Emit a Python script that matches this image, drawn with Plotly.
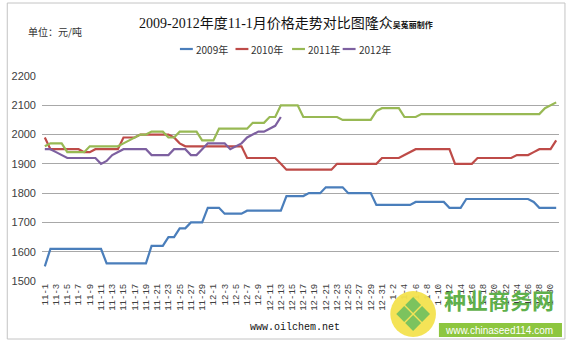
import plotly.graph_objects as go

# Category axis: every day from 1 Nov to 31 Jan
month_lengths = [(11, 30), (12, 31), (1, 31)]
dates = [f"{m}-{d}" for m, n in month_lengths for d in range(1, n + 1)]
tick_labels = dates[::2]

series_names = ["2009年", "2010年", "2011年", "2012年"]
series_colors = ["#4a7ebb", "#be4b48", "#98b954", "#7d60a0"]

price_2009 = [1550,
              1610, 1610, 1610, 1610, 1610, 1610, 1610, 1610, 1610, 1610,
              1560, 1560, 1560, 1560, 1560, 1560, 1560, 1560,
              1620, 1620, 1620, 1650, 1650, 1680, 1680, 1700, 1700, 1700,
              1750, 1750, 1750, 1730, 1730, 1730, 1730,
              1740, 1740, 1740, 1740, 1740, 1740, 1740,
              1790, 1790, 1790, 1790, 1800, 1800, 1800,
              1820, 1820, 1820, 1820, 1800, 1800, 1800, 1800, 1800,
              1760, 1760, 1760, 1760, 1760, 1760, 1760,
              1770, 1770, 1770, 1770, 1770, 1770, 1750, 1750, 1750,
              1780, 1780, 1780, 1780, 1780, 1780, 1780, 1780, 1780, 1780, 1780, 1780,
              1770, 1750, 1750, 1750, 1750]

price_2010 = [1990,
              1950, 1950, 1950, 1950, 1950, 1950, 1940, 1940,
              1950, 1950, 1950, 1950, 1950, 1990, 1990, 1990,
              2000, 2000, 2000, 2000, 2000, 2000, 1990, 1970,
              1960, 1960, 1960, 1960, 1960, 1960, 1960, 1960, 1960, 1960, 1960,
              1920, 1920, 1920, 1920, 1920, 1920, 1900,
              1880, 1880, 1880, 1880, 1880, 1880, 1880, 1880, 1880,
              1900, 1900, 1900, 1900, 1900, 1900, 1900, 1900,
              1920, 1920, 1920, 1920, 1930, 1940,
              1950, 1950, 1950, 1950, 1950, 1950, 1950,
              1900, 1900, 1900, 1900,
              1920, 1920, 1920, 1920, 1920, 1920, 1920,
              1930, 1930, 1930, 1940, 1950, 1950, 1950, 1980]

price_2011 = [1960, 1970, 1970, 1970, 1940, 1940, 1940, 1940,
              1960, 1960, 1960, 1960, 1960, 1960, 1970, 1980, 1990,
              2000, 2000, 2010, 2010, 2010, 1990, 1990,
              2010, 2010, 2010, 2010, 1980, 1980, 1980,
              2020, 2020, 2020, 2020, 2020, 2020, 2040, 2040, 2040,
              2060, 2060, 2100, 2100, 2100, 2100,
              2060, 2060, 2060, 2060, 2060, 2060, 2060,
              2050, 2050, 2050, 2050, 2050, 2050, 2080,
              2090, 2090, 2090, 2090, 2060, 2060, 2060,
              2070, 2070, 2070, 2070, 2070, 2070, 2070, 2070, 2070, 2070, 2070,
              2070, 2070, 2070, 2070, 2070, 2070, 2070, 2070, 2070, 2070, 2070,
              2090, 2100, 2110]

price_2012 = [1950, 1950, 1940, 1930, 1920, 1920, 1920, 1920, 1920, 1920,
              1900, 1910, 1930, 1940, 1950, 1950, 1950, 1950, 1950,
              1930, 1930, 1930, 1930, 1950, 1950, 1950, 1930, 1930,
              1950, 1970, 1970, 1970, 1970, 1950, 1960, 1970,
              1990, 2000, 2010, 2010, 2020, 2030, 2060]

all_series = [price_2009, price_2010, price_2011, price_2012]

# plot area geometry in pixels (used to place the decorations)
W, H = 571, 344
L, R, T, B = 38, 12, 76, 63
PW, PH = W - L - R, H - T - B


def fx(px):
    return (px - L) / PW


def fy(py):
    return (H - B - py) / PH


fig = go.Figure()
for name, color, vals in zip(series_names, series_colors, all_series):
    fig.add_trace(go.Scatter(
        x=dates[:len(vals)], y=vals, mode="lines", name=name,
        line=dict(color=color, width=2.2), showlegend=False))

shapes = []
annotations = []

# outer chart frame
shapes.append(dict(type="rect", xref="paper", yref="paper",
                   x0=fx(3), x1=fx(565), y0=fy(339), y1=fy(3),
                   line=dict(color="#c4c4c4", width=1), layer="below"))

# title, unit and legend
annotations.append(dict(
    xref="paper", yref="paper", x=fx(134), y=fy(23), xanchor="left", yanchor="middle",
    text="2009-2012年度11-1月价格走势对比图隆众"
         "<b><span style='font-size:8px'>吴菟丽制作</span></b>",
    showarrow=False, font=dict(family="Liberation Serif, Noto Sans CJK SC", size=14, color="#111")))
annotations.append(dict(
    xref="paper", yref="paper", x=fx(22), y=fy(31), xanchor="left", yanchor="middle",
    text="单位：元/吨", showarrow=False,
    font=dict(family="Noto Sans CJK SC", size=10, color="#333")))

legend_x = [177, 233, 290, 341]
legend_y = 49
for name, color, lx in zip(series_names, series_colors, legend_x):
    shapes.append(dict(type="line", xref="paper", yref="paper",
                       x0=fx(lx), x1=fx(lx + 13), y0=fy(legend_y), y1=fy(legend_y),
                       line=dict(color=color, width=2.2)))
    annotations.append(dict(
        xref="paper", yref="paper", x=fx(lx + 14), y=fy(legend_y), xanchor="left",
        yanchor="middle", text=name, showarrow=False,
        font=dict(family="Liberation Sans Narrow, Noto Sans CJK SC", size=10, color="#333")))

# source line
annotations.append(dict(
    xref="paper", yref="paper", x=fx(293), y=fy(327), xanchor="center", yanchor="middle",
    text="www.oilchem.net", showarrow=False,
    font=dict(family="Liberation Mono", size=10, color="#111")))

# site badge at the lower right
cx, cy, r = 412, 314, 23
shapes.append(dict(type="circle", xref="paper", yref="paper",
                   x0=fx(cx - r), x1=fx(cx + r), y0=fy(cy + r), y1=fy(cy - r),
                   fillcolor="#f3e14e", line=dict(width=0), layer="above", opacity=0.95))
for dx, dy in [(0, -9), (-9, 0), (9, 0), (0, 9)]:
    px0, py0 = cx + dx, cy + dy
    h = 8
    path = (f"M {fx(px0)} {fy(py0 - h)} L {fx(px0 + h)} {fy(py0)} "
            f"L {fx(px0)} {fy(py0 + h)} L {fx(px0 - h)} {fy(py0)} Z")
    shapes.append(dict(type="path", xref="paper", yref="paper", path=path,
                       fillcolor="#7cc35e", line=dict(width=0), layer="above"))
shapes.append(dict(type="rect", xref="paper", yref="paper",
                   x0=fx(438), x1=fx(562), y0=fy(337), y1=fy(323),
                   fillcolor="#8dc63f", line=dict(width=0), layer="above"))
annotations.append(dict(
    xref="paper", yref="paper", x=fx(499), y=fy(299), xanchor="center", yanchor="middle",
    text="<b>种业商务网</b>", showarrow=False,
    font=dict(family="Noto Sans CJK SC", size=22, color="#5fb04b")))
annotations.append(dict(
    xref="paper", yref="paper", x=fx(499), y=fy(330), xanchor="center", yanchor="middle",
    text="www.chinaseed114.com", showarrow=False,
    font=dict(family="Liberation Sans", size=10, color="#ffffff")))

fig.update_layout(
    width=W, height=H, autosize=False,
    margin=dict(l=L, r=R, t=T, b=B, pad=0),
    paper_bgcolor="#ffffff", plot_bgcolor="#ffffff",
    shapes=shapes, annotations=annotations,
    xaxis=dict(type="category", categoryorder="array", categoryarray=dates,
               range=[-0.5, len(dates) - 0.5], tickmode="array",
               tickvals=tick_labels, ticktext=tick_labels, tickangle=-90,
               showgrid=False, showline=False, zeroline=False, ticks="",
               tickfont=dict(family="Liberation Mono", size=9, color="#404040")),
    yaxis=dict(range=[1500, 2200], tickmode="array",
               tickvals=[1500, 1600, 1700, 1800, 1900, 2000, 2100, 2200],
               showgrid=True, gridcolor="#a8a8a8", gridwidth=1,
               zeroline=False, showline=False, ticks="", ticklabelstandoff=5,
               tickfont=dict(family="Liberation Sans Narrow, Liberation Sans", size=11, color="#404040")),
)

fig.write_html("out.html")
